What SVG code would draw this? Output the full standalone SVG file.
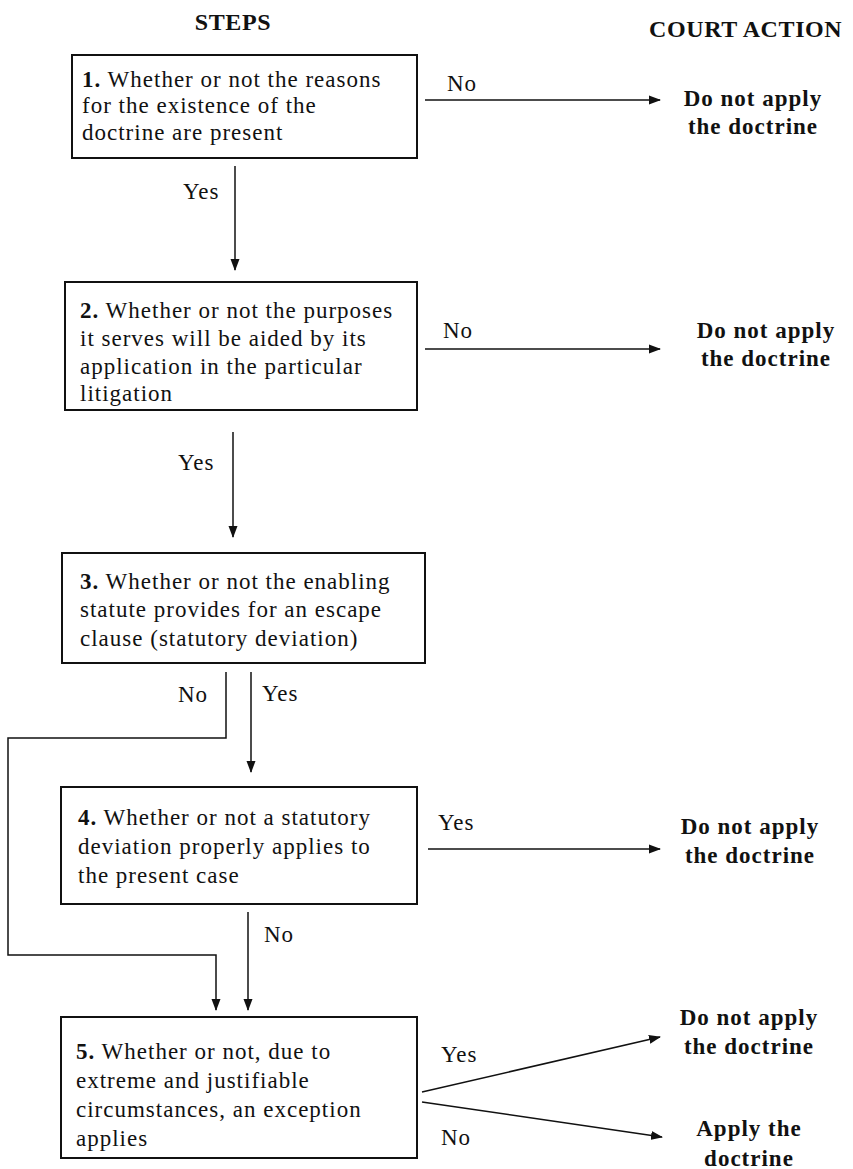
<svg xmlns="http://www.w3.org/2000/svg" width="853" height="1169" viewBox="0 0 853 1169">
<style>
text{font-family:"Liberation Serif","DejaVu Serif",serif;font-size:23px;letter-spacing:1px;fill:#111}
.b{font-weight:bold}
.h{font-weight:bold;font-size:24px;letter-spacing:0.6px}
.c{font-weight:bold;text-anchor:middle;letter-spacing:1px}
.box{fill:#fff;stroke:#111;stroke-width:2}
.ln{fill:none;stroke:#111;stroke-width:1.5}
</style>
<defs>
<marker id="ah" viewBox="0 0 12 10" refX="11" refY="5" markerWidth="12" markerHeight="10" markerUnits="userSpaceOnUse" orient="auto">
<path d="M0,0.5 L12,5 L0,9.5 z" fill="#111"/>
</marker>
</defs>
<rect width="853" height="1169" fill="#fff"/>
<text class="h" x="233" y="30" text-anchor="middle">STEPS</text>
<text class="h" x="649" y="37">COURT ACTION</text>

<g id="connectors">
<line class="ln" x1="425" y1="100" x2="660" y2="100" marker-end="url(#ah)"/>
<text x="447" y="91">No</text>
<line class="ln" x1="235" y1="166" x2="235" y2="270" marker-end="url(#ah)"/>
<text x="183" y="199">Yes</text>
<line class="ln" x1="425" y1="349" x2="660" y2="349" marker-end="url(#ah)"/>
<text x="443" y="338">No</text>
<line class="ln" x1="233" y1="432" x2="233" y2="537" marker-end="url(#ah)"/>
<text x="178" y="470">Yes</text>
<polyline class="ln" points="226,672 226,738 8,738 8,955 216,955 216,1010" marker-end="url(#ah)"/>
<text x="178" y="702">No</text>
<line class="ln" x1="251" y1="672" x2="251" y2="772" marker-end="url(#ah)"/>
<text x="262" y="701">Yes</text>
<line class="ln" x1="428" y1="849" x2="660" y2="849" marker-end="url(#ah)"/>
<text x="438" y="830">Yes</text>
<line class="ln" x1="248" y1="912" x2="248" y2="1010" marker-end="url(#ah)"/>
<text x="264" y="942">No</text>
<line class="ln" x1="422" y1="1092" x2="660" y2="1037" marker-end="url(#ah)"/>
<text x="441" y="1062">Yes</text>
<line class="ln" x1="422" y1="1102" x2="662" y2="1137" marker-end="url(#ah)"/>
<text x="441" y="1145">No</text>
</g>

<g id="step1">
<rect class="box" x="72" y="55" width="345" height="103"/>
<text x="82" y="87"><tspan class="b">1.</tspan> Whether or not the reasons</text>
<text x="82" y="113">for the existence of the</text>
<text x="82" y="140">doctrine are present</text>
</g>
<g id="action1">
<text class="c" x="753" y="106">Do not apply</text>
<text class="c" x="753" y="134">the doctrine</text>
</g>

<g id="step2">
<rect class="box" x="65" y="282" width="352" height="128"/>
<text x="80" y="318"><tspan class="b">2.</tspan> Whether or not the purposes</text>
<text x="80" y="346">it serves will be aided by its</text>
<text x="80" y="374">application in the particular</text>
<text x="80" y="401">litigation</text>
</g>
<g id="action2">
<text class="c" x="766" y="338">Do not apply</text>
<text class="c" x="766" y="366">the doctrine</text>
</g>

<g id="step3">
<rect class="box" x="62" y="553" width="363" height="110"/>
<text x="80" y="589"><tspan class="b">3.</tspan>  Whether or not the enabling</text>
<text x="80" y="617">statute provides for an escape</text>
<text x="80" y="646">clause (statutory deviation)</text>
</g>

<g id="step4">
<rect class="box" x="61" y="787" width="356" height="117"/>
<text x="78" y="825"><tspan class="b">4.</tspan> Whether or not a statutory</text>
<text x="78" y="854">deviation properly applies to</text>
<text x="78" y="883">the present case</text>
</g>
<g id="action4">
<text class="c" x="750" y="834">Do not apply</text>
<text class="c" x="750" y="863">the doctrine</text>
</g>

<g id="step5">
<rect class="box" x="61" y="1017" width="356" height="141"/>
<text x="76" y="1059"><tspan class="b">5.</tspan> Whether or not, due to</text>
<text x="76" y="1088">extreme and justifiable</text>
<text x="76" y="1117">circumstances, an exception</text>
<text x="76" y="1146">applies</text>
</g>
<g id="action5a">
<text class="c" x="749" y="1025">Do not apply</text>
<text class="c" x="749" y="1054">the doctrine</text>
</g>
<g id="action5b">
<text class="c" x="749" y="1136">Apply the</text>
<text class="c" x="749" y="1166">doctrine</text>
</g>
</svg>
